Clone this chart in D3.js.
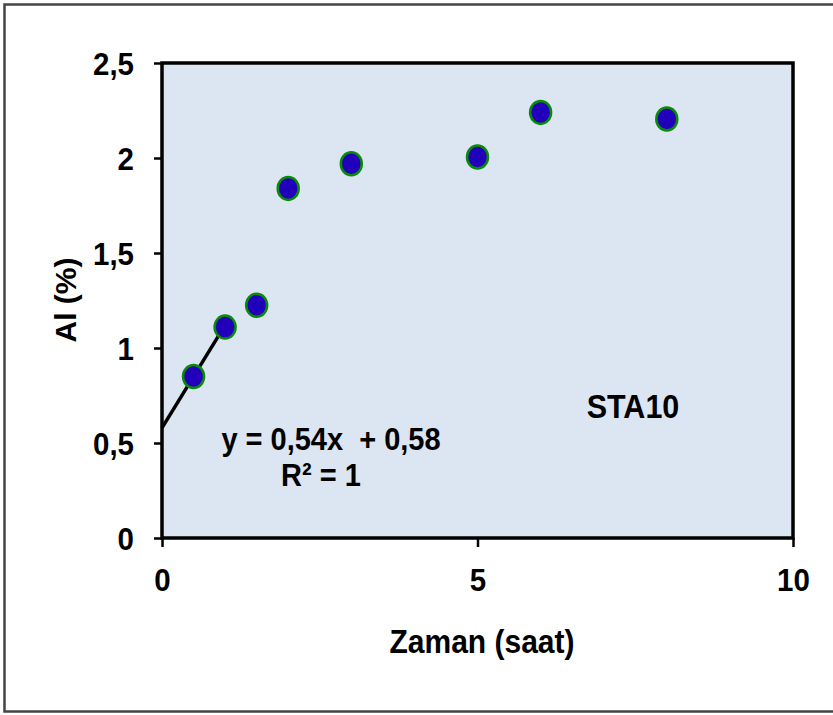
<!DOCTYPE html>
<html><head><meta charset="utf-8">
<script src="https://cdn.jsdelivr.net/npm/d3@7"></script>
<style>
body{margin:0;background:#fff}svg{display:block}
text{font-family:"Liberation Sans",Arial,sans-serif;font-weight:bold;fill:#000}
text.s{transform-box:fill-box;transform-origin:center;transform:scaleY(1.08)}
</style>
</head><body>
<script>
const xValues = [0.5, 1, 1.5, 2, 3, 5, 6, 8];
const yValues = [0.85, 1.11, 1.225, 1.84, 1.97, 2.005, 2.24, 2.205];
const xTicks = [0, 5, 10];
const yTicks = [0, 0.5, 1, 1.5, 2, 2.5];
const trendX = [0, 1];
const trendSlope = 0.54, trendIntercept = 0.58;
const eqLines = ["y = 0,54x  + 0,58", "R² = 1"];
const seriesLabel = "STA10";
const xTitle = "Zaman (saat)", yTitle = "Al (%)";

const W = 833, H = 715;
const m = {left:162, top:63, right:833-793, bottom:715-538};
const svg = d3.select("body").append("svg").attr("width", W).attr("height", H);
svg.append("rect").attr("x",4.5).attr("y",4.5).attr("width",W+10).attr("height",707)
  .attr("fill","none").attr("stroke","#444").attr("stroke-width",2.5);

const x = d3.scaleLinear().domain([0,10]).range([m.left, W-m.right]);
const y = d3.scaleLinear().domain([0,2.5]).range([H-m.bottom, m.top]);
const fmt = d => String(d).replace(".", ",");

svg.append("rect").attr("x",x(0)).attr("y",y(2.5)).attr("width",x(10)-x(0)).attr("height",y(0)-y(2.5))
  .attr("fill","#dce6f2").attr("stroke","#000").attr("stroke-width",3.5);

const yAx = svg.append("g").attr("transform",`translate(${x(0)},0)`)
  .call(d3.axisLeft(y).tickValues(yTicks).tickFormat(fmt).tickSize(8).tickPadding(20));
const xAx = svg.append("g").attr("transform",`translate(0,${y(0)})`)
  .call(d3.axisBottom(x).tickValues(xTicks).tickFormat(fmt).tickSize(9).tickPadding(22));
[yAx,xAx].forEach(g=>{
  g.attr("font-family",null).attr("font-size",null);
  g.select(".domain").remove();
  g.selectAll("line").attr("stroke","#000").attr("stroke-width",2.5);
  g.selectAll("text").attr("class","s").attr("font-size",29.5);
});
yAx.selectAll("text").attr("dy","0.36em");

// trendline
const line = d3.line().x(d=>x(d)).y(d=>y(trendSlope*d+trendIntercept));
svg.append("path").datum(trendX).attr("d",line).attr("stroke","#000").attr("stroke-width",3.5).attr("fill","none");

svg.selectAll("ellipse.pt").data(xValues).enter().append("ellipse").attr("class","pt")
  .attr("cx",(d)=>x(d)).attr("cy",(d,i)=>y(yValues[i])).attr("rx",10.5).attr("ry",11.5)
  .attr("fill","#2200bb").attr("stroke","#0a8a0a").attr("stroke-width",2.5);

svg.append("text").attr("class","s").attr("x",331).attr("y",449).attr("text-anchor","middle").attr("font-size",29).style("white-space","pre").text(eqLines[0]);
svg.append("text").attr("class","s").attr("x",321).attr("y",485).attr("text-anchor","middle").attr("font-size",29).text(eqLines[1]);
svg.append("text").attr("class","s").attr("x",633).attr("y",417).attr("text-anchor","middle").attr("font-size",30.5).text(seriesLabel);

svg.append("text").attr("class","s").attr("x",482).attr("y",652).attr("text-anchor","middle").attr("font-size",30).text(xTitle);
svg.append("text").attr("transform","translate(76,300) rotate(-90)").attr("text-anchor","middle").attr("font-size",30).text(yTitle);
</script>
</body></html>
